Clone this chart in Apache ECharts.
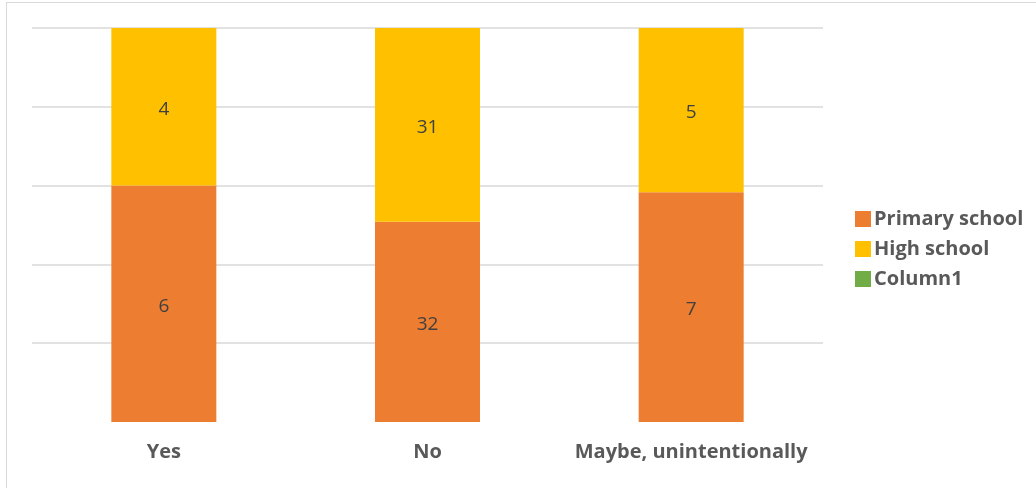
<!DOCTYPE html>
<html>
<head>
<meta charset="utf-8">
<script src="https://cdn.jsdelivr.net/npm/echarts@6/dist/echarts.min.js"></script>
<style>
  html, body { margin: 0; padding: 0; background: #fff; }
  #frame { position: absolute; left: 6px; top: 2px; width: 1040px; height: 500px;
           border: 1px solid #d9d9d9; box-sizing: border-box; }
  #chart { position: absolute; left: 0; top: 0; width: 1036px; height: 488px; }
</style>
</head>
<body>
<div id="frame"></div>
<div id="chart"></div>
<script>
// Answer categories and respondent counts per school level
const categories = ['Yes', 'No', 'Maybe, unintentionally'];
const primarySchool = [6, 32, 7];
const highSchool = [4, 31, 5];
const column1 = [0, 0, 0];
const yTicks = [0, 20, 40, 60, 80, 100];

// 100% stacked columns: share of each category total
const totals = categories.map((_, i) => primarySchool[i] + highSchool[i] + column1[i]);
const share = (arr) => arr.map((v, i) => ({ value: v / totals[i] * 100, count: v }));

const font = '"Open Sans", Lato, sans-serif';
const chart = echarts.init(document.getElementById('chart'), null, { renderer: 'canvas' });

const labelCfg = {
  show: true,
  position: 'inside',
  offset: [0, 3],
  color: '#404040',
  fontFamily: font,
  fontSize: 19,
  formatter: (p) => p.data.count
};

chart.setOption({
  animation: false,
  grid: { left: 32, right: 213, top: 28, bottom: 66 },
  legend: {
    orient: 'vertical',
    left: 850,
    top: 203,
    itemWidth: 16,
    itemHeight: 16,
    itemGap: 8,
    icon: 'rect',
    textStyle: { color: '#595959', fontFamily: font, fontSize: 20, fontWeight: 'bold', lineHeight: 22, padding: [0, 0, 0, -2] },
    data: ['Primary school', 'High school', 'Column1']
  },
  xAxis: {
    type: 'category',
    data: categories,
    axisLine: { show: false },
    axisTick: { show: false },
    axisLabel: { color: '#595959', fontFamily: font, fontSize: 20, fontWeight: 'bold', margin: 20, interval: 0, hideOverlap: false }
  },
  yAxis: {
    type: 'value',
    min: yTicks[0],
    max: yTicks[yTicks.length - 1],
    interval: yTicks[1] - yTicks[0],
    axisLabel: { show: false },
    axisLine: { show: false },
    axisTick: { show: false },
    splitLine: {
      lineStyle: { color: '#d9d9d9', width: 1.5 },
      showMinLine: false
    }
  },
  series: [
    {
      name: 'Primary school', type: 'bar', stack: 'total', barWidth: 105,
      itemStyle: { color: '#ED7D31' },
      label: labelCfg,
      data: share(primarySchool)
    },
    {
      name: 'High school', type: 'bar', stack: 'total', barWidth: 105,
      itemStyle: { color: '#FFC000' },
      label: labelCfg,
      data: share(highSchool)
    },
    {
      name: 'Column1', type: 'bar', stack: 'total', barWidth: 105,
      itemStyle: { color: '#70AD47' },
      label: { show: false },
      data: share(column1)
    }
  ]
});
</script>
</body>
</html>
